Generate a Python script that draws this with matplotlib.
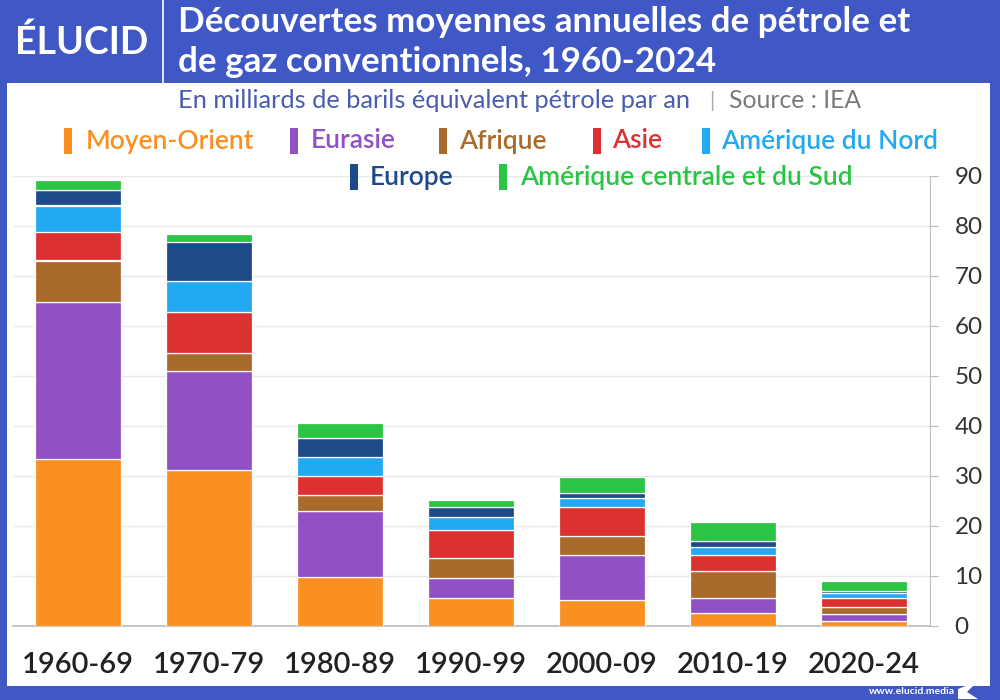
import matplotlib
matplotlib.use('Agg')
import matplotlib.pyplot as plt
from matplotlib.patches import Rectangle, Polygon
import numpy as np

# ---------------- data ----------------
categories = ['1960-69', '1970-79', '1980-89', '1990-99', '2000-09', '2010-19', '2020-24']
series_names = ['Moyen-Orient', 'Eurasie', 'Afrique', 'Asie', 'Amérique du Nord',
                'Europe', 'Amérique centrale et du Sud']
moyen_orient = [33.5, 31.2, 9.9, 5.6, 5.3, 2.6, 1.1]
eurasie = [31.4, 19.9, 13.2, 4.1, 9.0, 3.0, 1.4]
afrique = [8.2, 3.6, 3.1, 4.0, 3.8, 5.4, 1.4]
asie = [5.8, 8.2, 3.9, 5.5, 5.7, 3.3, 1.7]
amerique_nord = [5.2, 6.1, 3.8, 2.7, 1.9, 1.6, 1.0]
europe = [3.1, 7.9, 3.8, 2.0, 1.0, 1.2, 0.5]
amerique_cs = [1.9, 1.5, 2.9, 1.3, 3.1, 3.7, 1.9]
y_ticks = [0, 10, 20, 30, 40, 50, 60, 70, 80, 90]

series_values = [moyen_orient, eurasie, afrique, asie, amerique_nord, europe, amerique_cs]
colors = ['#fa8f22', '#9151c4', '#a96a2c', '#dc3131', '#23a9f2', '#1f4a8a', '#2bc445']

BLUE = '#3f58c6'
FONT = 'Lato'
plt.rcParams['font.family'] = [FONT, 'DejaVu Sans']

W, H = 1000, 700
fig = plt.figure(figsize=(10, 7), dpi=100)
fig.patch.set_facecolor(BLUE)


def fx(px):
    return px / W


def fy(py):
    return 1 - py / H


# white panel
fig.add_artist(Rectangle((fx(7), fy(686)), fx(990) - fx(7), fy(83) - fy(686),
                         transform=fig.transFigure, facecolor='white',
                         edgecolor='none', zorder=-1))

# header
fig.text(fx(82), fy(42), 'ÉLUCID', color='white', fontsize=27, fontweight='bold',
         ha='center', va='center')
fig.add_artist(plt.Line2D([fx(163), fx(163)], [fy(0), fy(83)], color='white', lw=1.2,
                          transform=fig.transFigure))
fig.text(fx(178), fy(22), 'Découvertes moyennes annuelles de pétrole et', color='white',
         fontsize=25.2, fontweight='bold', ha='left', va='center')
fig.text(fx(178), fy(62), 'de gaz conventionnels, 1960-2024', color='white',
         fontsize=25.2, fontweight='bold', ha='left', va='center')

# subtitle
fig.text(fx(178), fy(101), 'En milliards de barils équivalent pétrole par an',
         color='#4a5cb0', fontsize=18.3, ha='left', va='center')
fig.text(fx(712), fy(101), '|', color='#aaaaaa', fontsize=15, ha='center', va='center')
fig.text(fx(729), fy(101), 'Source : IEA', color='#7a7a7a', fontsize=17.8,
         ha='left', va='center')

# ---------------- axes ----------------
ax = fig.add_axes([fx(12.5), fy(626), fx(929.5) - fx(12.5), fy(176) - fy(626)])
ax.set_facecolor('none')
x = np.arange(len(categories))
bottom = np.zeros(len(categories))
for name, vals, c in zip(series_names, series_values, colors):
    ax.bar(x, vals, bottom=bottom, width=0.66, color=c, edgecolor='white',
           linewidth=0.9, label=name, zorder=3)
    bottom += np.array(vals)

ax.set_xlim(-0.5, len(categories) - 0.5)
ax.set_ylim(0, 90)
ax.set_xticks(x)
ax.set_xticklabels(categories, fontsize=21, color='#222222', fontweight='semibold')
ax.tick_params(axis='x', length=0, pad=19)
ax.yaxis.tick_right()
ax.set_yticks(y_ticks)
ax.set_yticklabels([str(v) for v in y_ticks], fontsize=17.5, color='#333333')
ax.tick_params(axis='y', length=6, width=0.8, color='#bbbbbb', pad=12)
ax.yaxis.grid(True, color='#e8e8e8', lw=1)
ax.set_axisbelow(True)
for s in ['left', 'top']:
    ax.spines[s].set_visible(False)
ax.spines['right'].set_color('#bbbbbb')
ax.spines['bottom'].set_color('#bbbbbb')
ax.spines['right'].set_linewidth(0.8)
ax.spines['bottom'].set_linewidth(1.2)

# ---------------- legend (manual) ----------------
legend_pos = [(64, 86, 141), (290, 311, 141), (439, 459, 141), (593, 612, 141),
              (702, 721, 141), (350, 370, 177), (499, 520, 177)]
for (mx, tx, ty), name, c in zip(legend_pos, series_names, colors):
    fig.add_artist(Rectangle((fx(mx), fy(ty + 13)), fx(8), fy(0) - fy(26),
                             transform=fig.transFigure, facecolor=c,
                             edgecolor='none', zorder=5))
    fig.text(fx(tx), fy(ty), name, color=c, fontsize=19, fontweight='semibold',
             ha='left', va='center', zorder=5)

# footer
fig.text(fx(955), fy(692), 'www.elucid.media', color='white', fontsize=7.5,
         fontweight='bold', ha='right', va='center')
fig.add_artist(Polygon([(fx(958), fy(689)), (fx(978), fy(681)), (fx(967), fy(692)),
                        (fx(978), fy(699)), (fx(958), fy(699))], closed=True,
                       transform=fig.transFigure, facecolor='white', edgecolor='none'))

fig.savefig('out.png', dpi=100, facecolor=BLUE)
